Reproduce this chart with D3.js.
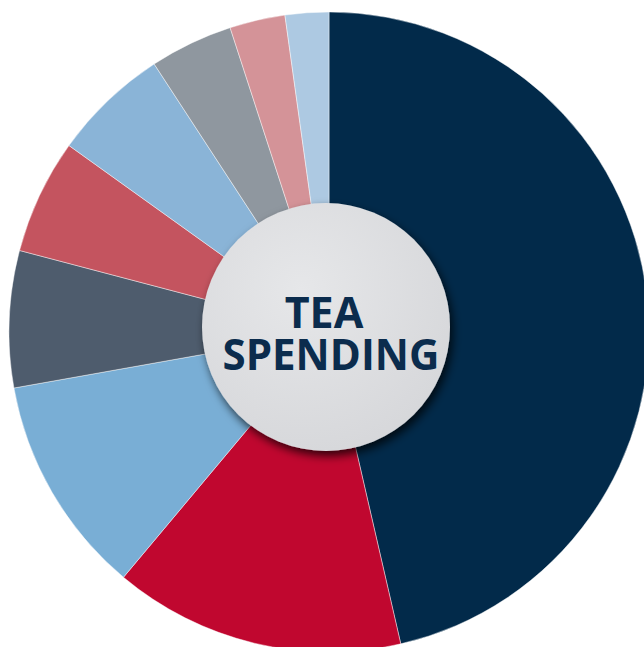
<!DOCTYPE html>
<html>
<head>
<meta charset="utf-8">
<script src="https://cdn.jsdelivr.net/npm/d3@7"></script>
<style>
  html, body { margin: 0; padding: 0; background: #ffffff; }
  svg { display: block; }
</style>
</head>
<body>
<svg id="chart" width="644" height="647"></svg>
<script>
const categories = ["Segment 1", "Segment 2", "Segment 3", "Segment 4", "Segment 5", "Segment 6", "Segment 7", "Segment 8", "Segment 9"];
const values = [46.4, 14.7, 11.1, 6.9, 5.8, 5.9, 4.2, 2.8, 2.2];
const colors = ["#022a4a", "#c0072f", "#79aed5", "#4e5c6d", "#c4545f", "#8ab4d7", "#8f979f", "#d49398", "#adc9e2"];
const titleLines = ["TEA", "SPENDING"];

const data = categories.map((c, i) => ({ category: c, value: values[i], color: colors[i] }));

const svg = d3.select("#chart");
const cx = 329, cy = 332, R = 320;

const defs = svg.append("defs");
const filt = defs.append("filter").attr("id", "shadow")
  .attr("x", "-30%").attr("y", "-30%").attr("width", "160%").attr("height", "160%");
filt.append("feDropShadow").attr("dx", 3).attr("dy", 5).attr("stdDeviation", 5)
  .attr("flood-color", "#000").attr("flood-opacity", 0.75);

const grad = defs.append("radialGradient").attr("id", "face")
  .attr("cx", "40%").attr("cy", "35%").attr("r", "70%");
grad.append("stop").attr("offset", "0%").attr("stop-color", "#e6e7e9");
grad.append("stop").attr("offset", "100%").attr("stop-color", "#d6d7da");

const g = svg.append("g").attr("transform", `translate(${cx},${cy})`);

const pie = d3.pie().sort(null).value(d => d.value);
const arc = d3.arc().innerRadius(0).outerRadius(R);

g.selectAll("path.slice")
  .data(pie(data))
  .join("path")
  .attr("class", "slice")
  .attr("d", arc)
  .attr("fill", d => d.data.color)
  .attr("stroke", "rgba(255,255,255,0.55)")
  .attr("stroke-width", 0.8);

// center badge
const badge = svg.append("g").attr("transform", "translate(326,327)");
badge.append("circle").attr("r", 124).attr("fill", "url(#face)").attr("filter", "url(#shadow)");

const text = badge.append("text")
  .attr("text-anchor", "middle")
  .attr("font-family", "'Open Sans', 'Noto Sans', sans-serif")
  .attr("font-weight", 700)
  .attr("font-size", 43)
  .attr("fill", "#0b2c4d");
text.append("tspan").attr("x", -2).attr("y", 1).text(titleLines[0]);
text.append("tspan").attr("x", 5).attr("y", 43).text(titleLines[1])
  .attr("textLength", 217).attr("lengthAdjust", "spacingAndGlyphs");
</script>
</body>
</html>
